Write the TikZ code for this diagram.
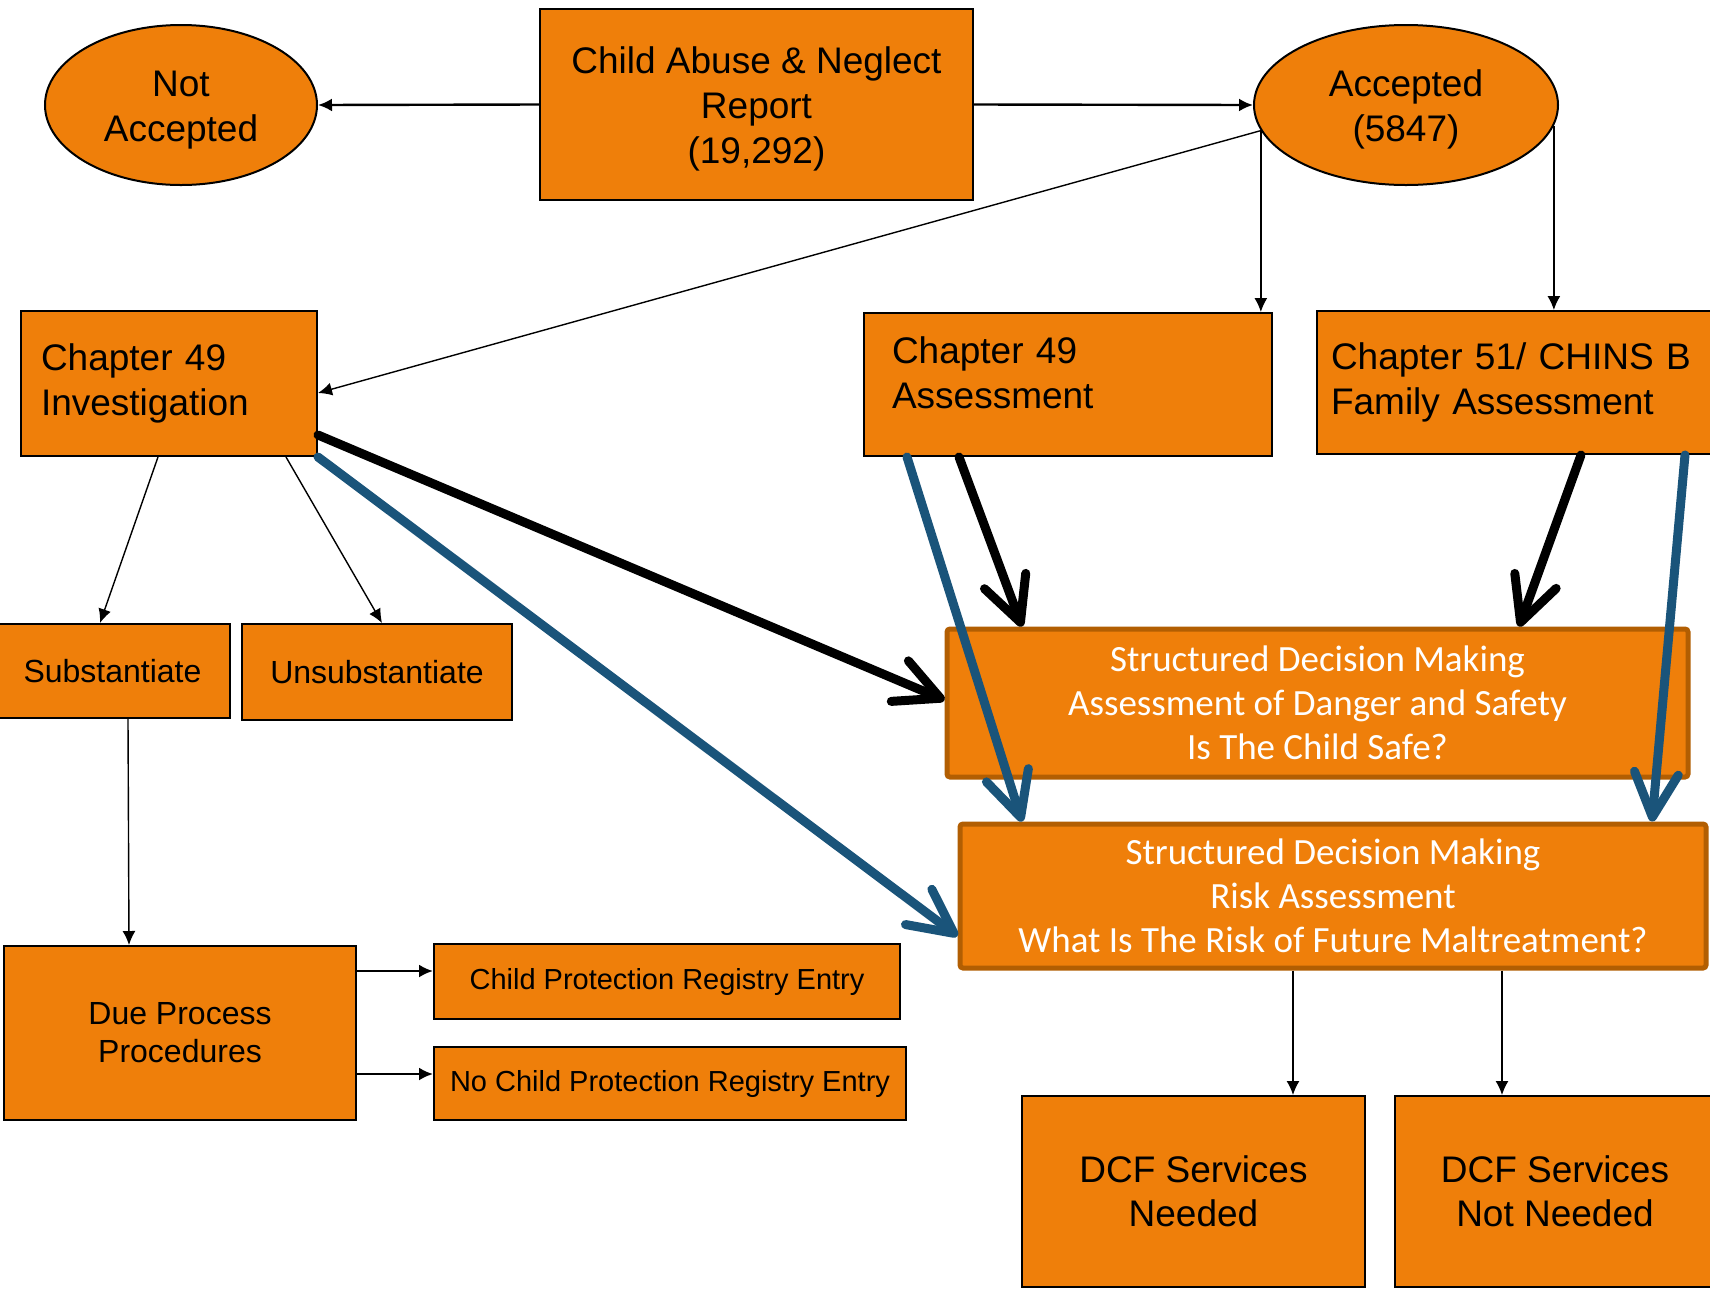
\documentclass[tikz,border=0pt]{standalone}
\usepackage{fontspec}
\setmainfont{Liberation Sans}
\newfontfamily\sdmfont{Carlito}
\usetikzlibrary{shapes.geometric,arrows.meta}

\definecolor{boxorange}{RGB}{239,127,10}
\definecolor{sdmedge}{RGB}{178,94,2}
\definecolor{flowblue}{RGB}{26,84,122}
\pgfdeclareradialshading{pagebg}{\pgfpoint{0bp}{0bp}}{color(0bp)=(white); color(40bp)=(white); color(72bp)=(black!18)}

\tikzset{
  box/.style={draw=black, line width=1pt, fill=boxorange, inner sep=0pt, align=center,
    font=\fontsize{18.5}{22.5}\selectfont},
  oval/.style={box, ellipse},
  sdmbox/.style={draw=sdmedge, line width=2.5pt, fill=boxorange, rounded corners=1.5pt,
    inner sep=0pt, align=center, text=white, font=\sdmfont\fontsize{18.5}{22}\selectfont},
  link/.style={-{Latex[length=7pt,width=6.5pt]}, line width=0.7pt},
  bold/.style={-{Straight Barb[length=22pt,width=22pt,line cap=round,line join=round]},
    line width=4.5pt, line cap=round},
}

\begin{document}
\begin{tikzpicture}[x=0.5pt,y=-0.5pt]
\useasboundingbox (0,0) rectangle (1710,1297);
\shade[shading=pagebg] (0,0) rectangle (1710,1297);

    %top row
    \node[box, text height=63pt, minimum width=216.5pt, minimum height=95.5pt] (report) at (756.5,104.5) {Child Abuse \& Neglect\\Report\\(19,292)};
    \node[oval, text height=40pt, minimum width=136pt, minimum height=80pt] (notacc) at (181,105) {Not\\Accepted};
    \node[oval, text height=40pt, minimum width=152pt, minimum height=80pt] (acc) at (1406,105) {Accepted\\(5847)};

    %chapter boxes
    \node[box, align=left, text width=128pt, minimum width=148pt, minimum height=72.5pt] (inv) at (169,383.5) {Chapter 49\\Investigation};
    \node[box, align=left, text width=176pt, text depth=34pt, minimum width=204pt, minimum height=71.5pt] (asmt) at (1068,384.5) {Chapter 49\\Assessment};
    \node[box, align=left, text width=187.5pt, minimum width=201.5pt, minimum height=71.5pt] (fam) at (1518.5,382.5) {Chapter 51/ CHINS B\\Family Assessment};

    %findings
    \node[box, font=\fontsize{16}{19}\selectfont, minimum width=117.5pt, minimum height=47pt] (sub) at (112.5,671) {Substantiate};
    \node[box, font=\fontsize{16}{19}\selectfont, minimum width=135pt, minimum height=48pt] (unsub) at (377,672) {Unsubstantiate};
    \node[box, font=\fontsize{16}{19}\selectfont, minimum width=176pt, minimum height=87pt] (due) at (180,1033) {Due Process\\Procedures};
    \node[box, font=\fontsize{14.5}{17}\selectfont, minimum width=233pt, minimum height=37.5pt] (cpr) at (667,981.5) {Child Protection Registry Entry};
    \node[box, font=\fontsize{14.5}{17}\selectfont, minimum width=236pt, minimum height=36.5pt] (nocpr) at (670,1083.5) {No Child Protection Registry Entry};

    %structured decision making
    \node[sdmbox, minimum width=370.5pt, minimum height=74pt] (safe) at (1317.5,703) {Structured Decision Making\\Assessment of Danger and Safety\\Is The Child Safe?};
    \node[sdmbox, minimum width=373pt, minimum height=72pt] (risk) at (1333,896) {Structured Decision Making\\Risk Assessment\\What Is The Risk of Future Maltreatment?};

    %services
    \node[box, font=\fontsize{18.5}{22}\selectfont, minimum width=171.5pt, minimum height=95.5pt] (need) at (1193.5,1191.5) {DCF Services\\Needed};
    \node[box, font=\fontsize{18.5}{22}\selectfont, minimum width=160pt, minimum height=95.5pt] (notneed) at (1555,1191.5) {DCF Services\\Not Needed};

    %bold arrows
    \draw[bold] ([yshift=11pt]inv.south east) -- ([yshift=1.5pt]safe.west);
    \draw[bold] ([xshift=-54.5pt]asmt.south) -- ([xshift=-147.75pt]safe.north);
    \draw[bold] ([xshift=31.25pt]fam.south) -- ([xshift=100.75pt]safe.north);
    \draw[bold, flowblue] (inv.south east) -- ([yshift=-20pt]risk.west);
    \draw[bold, flowblue] ([xshift=-80.5pt]asmt.south) -- ([xshift=-155.5pt]risk.north);
    \draw[bold, flowblue] ([xshift=83.25pt]fam.south) -- ([xshift=159.5pt]risk.north);

    %thin arrows
    \draw[link, line width=1.2pt] (report.west) -- (notacc.east);
    \draw[link, line width=1.2pt] (report.east) -- (acc.west);
    \draw[link] (acc.190) -- ([yshift=-4.75pt]inv.east);
    \draw[link] (acc.190) -- (acc.190 |- asmt.north);
    \draw[link] (acc.-8) -- (acc.-8 |- fam.north);
    \draw[link] ([xshift=-5.5pt]inv.south) -- ([xshift=-6.25pt]sub.north);
    \draw[link] ([xshift=58.5pt]inv.south) -- ([xshift=2.5pt]unsub.north);
    \draw[link] ([xshift=7.75pt]sub.south) -- ([xshift=-25.5pt]due.north);
    \coordinate (dueup) at ([yshift=31pt]due.east);
    \coordinate (duedown) at ([yshift=-20.5pt]due.east);
    \draw[link, line width=1.2pt] (dueup) -- (dueup -| cpr.west);
    \draw[link, line width=1.2pt] (duedown) -- (duedown -| nocpr.west);
    \draw[link] ([xshift=-20pt]risk.south) -- ([xshift=-20pt]risk.south |- need.north);
    \draw[link] ([xshift=84.5pt]risk.south) -- ([xshift=84.5pt]risk.south |- notneed.north);
\end{tikzpicture}
\end{document}
